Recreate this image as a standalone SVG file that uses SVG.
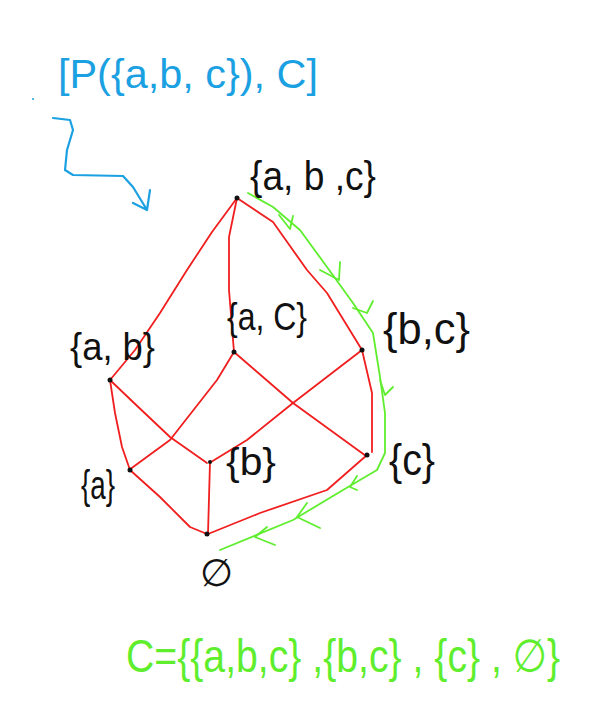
<svg xmlns="http://www.w3.org/2000/svg" width="591" height="725" viewBox="0 0 591 725">
<style>
.edge{fill:none;stroke:#f01e1e;stroke-width:1.8;stroke-linecap:round;stroke-linejoin:round}
.chain{fill:none;stroke:#5fee2e;stroke-width:1.8;stroke-linecap:round;stroke-linejoin:round}
.blue{fill:none;stroke:#1ba1e2;stroke-width:2.2;stroke-linecap:round;stroke-linejoin:round}
.dot{fill:#111}
.lbl{font-family:"Liberation Sans","DejaVu Sans",sans-serif;fill:#111}
.btxt{font-family:"Liberation Sans","DejaVu Sans",sans-serif;fill:#1ba1e2}
.gtxt{font-family:"Liberation Sans","DejaVu Sans",sans-serif;fill:#5fee2e}
</style>
<rect width="591" height="725" fill="#fff"/>
<g id="title">
<text class="btxt" x="58" y="88" font-size="40" textLength="260" lengthAdjust="spacingAndGlyphs">[P({a,b, c}), C]</text>
<circle cx="33" cy="99" r="1" fill="#1ba1e2"/>
<path class="blue" d="M53,118 L70,120 L73,130 L67,150 L65,170 L73,175 L123,176 L133,187 L147,210 M133,203 L147,210 L150,190"/>
</g>
<g id="connectors">
<path class="edge" d="M237,198 L212,232 L187,270 L160,313 L135,350 L110,380"/>
<path class="edge" d="M237,198 L229,237 L229,290 L234,352"/>
<path class="edge" d="M237,198 L273,222 L307,270 L327,293 L362,350"/>
<path class="edge" d="M110,380 L115,413 L122,447 L130,470"/>
<path class="edge" d="M110,380 L133,402 L170,437 L207,463"/>
<path class="edge" d="M234,352 L217,380 L170,440 L129,470"/>
<path class="edge" d="M234,352 L293,403 L366,456"/>
<path class="edge" d="M362,350 L293,403 L247,440 L211,462"/>
<path class="edge" d="M362,350 L372,393 L372,452"/>
<path class="edge" d="M130,470 L160,497 L190,527 L207,534"/>
<path class="edge" d="M210,462 L208,534"/>
<path class="edge" d="M367,455 L327,490 L260,513 L208,534"/>
<path class="chain" d="M248,193 L273,207 L300,230 L327,267 L353,303 L373,333 L380,377 L385,413 L385,453 L377,470 L343,490 L293,520 L220,550"/>
<path class="chain" d="M279,215 L290,229 L293,216 M320,270 L339,280 L340,262 M353,308 L367,313 L373,301 M380,380 L385,395 L393,387 M357,476 L350,487 L357,490 M307,503 L297,517 L320,528 M267,527 L255,537 L275,545"/>
</g>
<g id="n-abc">
<circle class="dot" cx="237" cy="198" r="2.5"/>
<text class="lbl" x="250" y="190" font-size="40" textLength="126" lengthAdjust="spacingAndGlyphs">{a, b ,c}</text>
</g>
<g id="n-ab">
<circle class="dot" cx="110" cy="380" r="2.5"/>
<text class="lbl" x="70" y="360" font-size="38" textLength="85" lengthAdjust="spacingAndGlyphs">{a, b}</text>
</g>
<g id="n-ac">
<circle class="dot" cx="234" cy="352" r="2.5"/>
<text class="lbl" x="227" y="330" font-size="38" textLength="80" lengthAdjust="spacingAndGlyphs">{a, C}</text>
</g>
<g id="n-bc">
<circle class="dot" cx="362" cy="350" r="2.5"/>
<text class="lbl" x="383" y="344" font-size="44" textLength="87" lengthAdjust="spacingAndGlyphs">{b,c}</text>
</g>
<g id="n-a">
<circle class="dot" cx="130" cy="470" r="2.5"/>
<text class="lbl" x="81" y="499" font-size="40" textLength="34" lengthAdjust="spacingAndGlyphs">{a}</text>
</g>
<g id="n-b">
<circle class="dot" cx="210" cy="462" r="2"/>
<text class="lbl" x="226" y="475" font-size="38" textLength="50" lengthAdjust="spacingAndGlyphs">{b}</text>
</g>
<g id="n-c">
<circle class="dot" cx="367" cy="455" r="2.5"/>
<text class="lbl" x="389" y="475" font-size="44" textLength="46" lengthAdjust="spacingAndGlyphs">{c}</text>
</g>
<g id="n-empty">
<circle class="dot" cx="207" cy="534" r="2.5"/>
<text class="lbl" x="200" y="586" font-size="38">∅</text>
</g>
<g id="result">
<text class="gtxt" x="126" y="672" font-size="46" textLength="434" lengthAdjust="spacingAndGlyphs">C={{a,b,c} ,{b,c} , {c} , ∅}</text>
</g>
</svg>
